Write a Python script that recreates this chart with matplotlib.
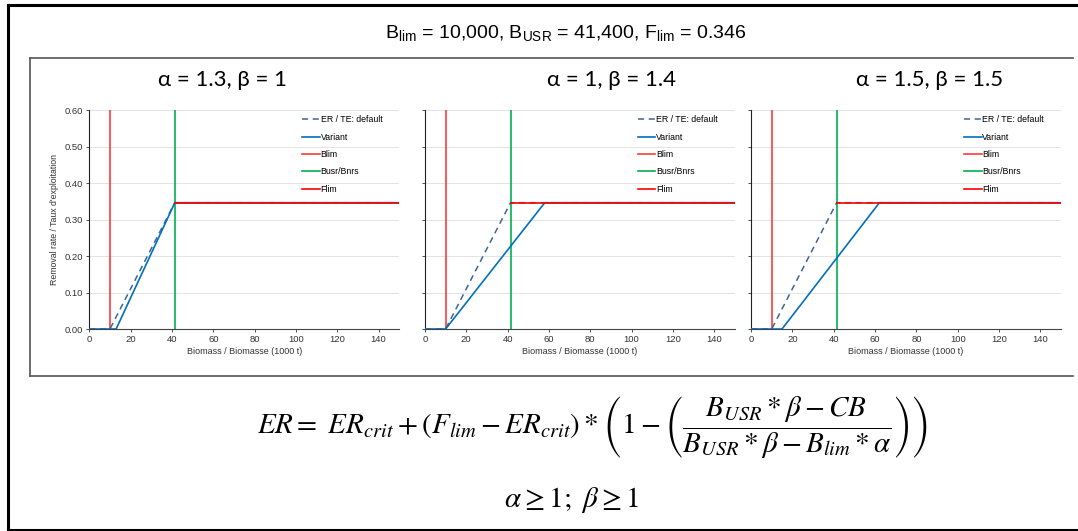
import numpy as np
import matplotlib
matplotlib.use("Agg")
import matplotlib.pyplot as plt
from matplotlib.lines import Line2D

plt.rcParams['font.family'] = ['Liberation Sans', 'DejaVu Sans']

# reference points
b_lim = 10.0
b_usr = 41.4
f_lim = 0.346

# panel settings
alphas = ["1.3", "1", "1.5"]
betas = ["1", "1.4", "1.5"]

# default ER / TE curve (breakpoints)
default_x = [0, 10, 41.4, 150]
default_y = [0, 0, 0.346, 0.346]

# variant curves (breakpoints)
variant_x = [[0, 13, 41.4, 150],
             [0, 10, 57.96, 150],
             [0, 15, 62.1, 150]]
variant_y = [[0, 0, 0.346, 0.346],
             [0, 0, 0.346, 0.346],
             [0, 0, 0.346, 0.346]]

# Flim line starts at Busr
flim_x = [41.4, 150]
flim_y = [0.346, 0.346]

yticks = [0, 0.1, 0.2, 0.3, 0.4, 0.5, 0.6]
xticks = [0, 20, 40, 60, 80, 100, 120, 140]

fig = plt.figure(figsize=(10.78, 5.31), dpi=100)

lefts = [0.0828, 0.3942, 0.6967]
title_x = [0.206, 0.567, 0.862]

for i in range(3):
    ax = fig.add_axes([lefts[i], 0.3804, 0.2876, 0.4124])
    ax.plot(default_x, default_y, color="#3F6497", lw=1.1, dashes=(4, 3),
            label="ER / TE: default", zorder=3)
    ax.plot(variant_x[i], variant_y[i], color="#0070C0", lw=1.2,
            label="Variant", zorder=4)
    ax.plot([b_lim, b_lim], [0, 0.6], color="#FF3B3B", lw=1.2, label="Blim", zorder=2)
    ax.plot([b_usr, b_usr], [0, 0.6], color="#00B050", lw=1.2, label="Busr/Bnrs", zorder=2)
    ax.plot(flim_x, flim_y, color="#FF0000", lw=1.2, label="Flim", zorder=5)

    ax.set_xlim(0, 150)
    ax.set_ylim(0, 0.6)
    ax.set_xticks(xticks)
    ax.set_yticks(yticks)
    ax.yaxis.grid(True, color="#E3E3E3", lw=0.7)
    ax.set_axisbelow(True)
    for s in ["top", "right"]:
        ax.spines[s].set_visible(False)
    ax.spines["left"].set_color("#222222")
    ax.spines["bottom"].set_color("#444444")
    ax.spines["left"].set_linewidth(0.8)
    ax.spines["bottom"].set_linewidth(0.8)
    ax.tick_params(axis="both", labelsize=6.8, length=2.5, width=0.6,
                   colors="#333333", pad=2)
    if i == 0:
        ax.set_yticklabels(["%.2f" % v for v in yticks])
        ax.set_ylabel("Removal rate / Taux d'exploitation", fontsize=6.3,
                      color="#333333", labelpad=4)
    else:
        ax.set_yticklabels([])
    ax.set_xlabel("Biomass / Biomasse (1000 t)", fontsize=6.5,
                  color="#333333", labelpad=2)
    ax.legend(loc="upper left", bbox_to_anchor=(0.687, 0.975), frameon=False,
              fontsize=6.3, handlelength=2.0, handletextpad=0.1,
              labelspacing=0.95, borderpad=0, borderaxespad=0)

    fig.text(title_x[i], 0.85, "\u03b1 = %s, \u03b2 = %s" % (alphas[i], betas[i]),
             ha="center", va="center", fontsize=16,
             family=["Lato", "DejaVu Sans"])

# overall title
fig.text(0.525, 0.937,
         r"B$_\mathregular{lim}$ = 10,000, B$_\mathregular{USR}$ = 41,400, F$_\mathregular{lim}$ = 0.346",
         ha="center", va="center", fontsize=14,
         family=["Liberation Sans Narrow", "Liberation Sans"])

# formula
formula = (r"$ER=\ ER_{crit}+(F_{lim}-ER_{crit})*\left(1-\left("
           r"\dfrac{B_{USR}*\beta-CB}{B_{USR}*\beta-B_{lim}*\alpha}\right)\right)$")
fig.text(0.55, 0.195, formula, ha="center", va="center", fontsize=21,
         math_fontfamily="stix")
fig.text(0.53, 0.058, r"$\alpha\geq1;\ \beta\geq1$", ha="center", va="center",
         fontsize=21, math_fontfamily="stix")

# outer border (left, top, bottom)
for xs, ys in [([0.0075, 0.0075], [0.002, 0.9906]),
               ([0.0075, 1.0], [0.9906, 0.9906]),
               ([0.0075, 1.0], [0.002, 0.002])]:
    fig.add_artist(Line2D(xs, ys, transform=fig.transFigure, color="black", lw=2.2))

# inner chart box
for xs, ys in [([0.0278, 0.0278], [0.2919, 0.8908]),
               ([0.0278, 0.9954], [0.8908, 0.8908]),
               ([0.0278, 0.9954], [0.2919, 0.2919])]:
    fig.add_artist(Line2D(xs, ys, transform=fig.transFigure, color="#555555", lw=1.2))

fig.savefig("out.png", dpi=100)
